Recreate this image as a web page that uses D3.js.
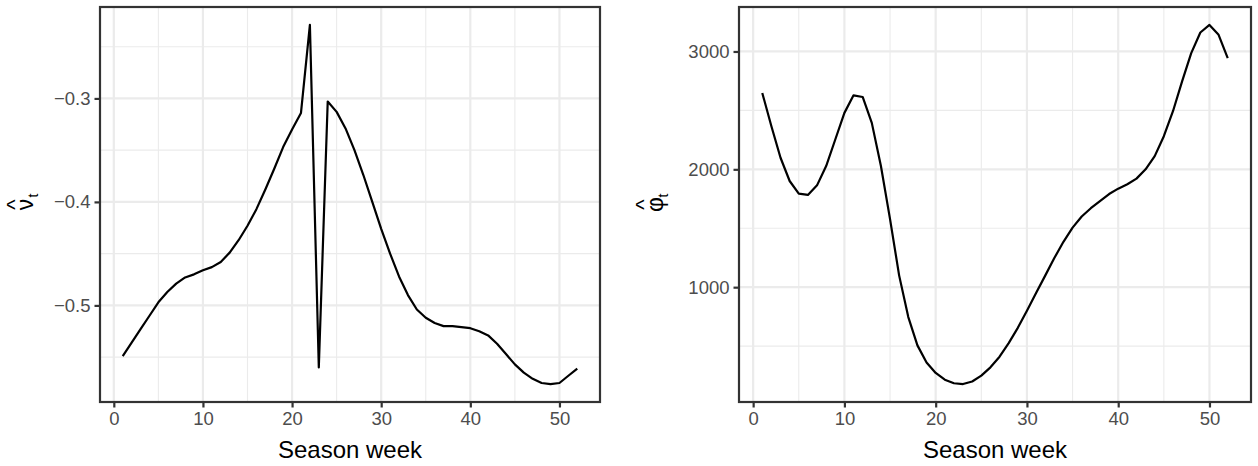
<!DOCTYPE html>
<html>
<head>
<meta charset="utf-8">
<script src="https://cdn.jsdelivr.net/npm/d3@7"></script>
<style>
  body { margin: 0; background: #fff; }
  text { font-family: "Liberation Sans", Arial, sans-serif; }
</style>
</head>
<body>
<script>
// season weeks
var weeks = [1,2,3,4,5,6,7,8,9,10,11,12,13,14,15,16,17,18,19,20,21,22,23,24,25,26,
             27,28,29,30,31,32,33,34,35,36,37,38,39,40,41,42,43,44,45,46,47,48,49,50,51,52];
// estimated nu hat
var nuHat = [-0.549,-0.536,-0.523,-0.510,-0.497,-0.487,-0.479,-0.473,-0.470,-0.466,
             -0.463,-0.458,-0.449,-0.437,-0.423,-0.407,-0.388,-0.368,-0.347,-0.330,
             -0.314,-0.229,-0.560,-0.303,-0.313,-0.329,-0.350,-0.374,-0.400,-0.426,
             -0.450,-0.472,-0.490,-0.504,-0.512,-0.517,-0.520,-0.520,-0.521,-0.522,
             -0.525,-0.529,-0.537,-0.547,-0.557,-0.565,-0.571,-0.575,-0.576,-0.575,
             -0.568,-0.561];
// estimated phi hat
var phiHat = [2648,2366,2098,1901,1794,1783,1864,2028,2253,2479,
              2628,2614,2394,2028,1577,1098,746,506,360,272,
              215,185,178,200,250,320,410,525,655,800,
              951,1098,1247,1385,1505,1600,1670,1730,1790,1836,
              1873,1921,2000,2112,2281,2493,2746,2986,3161,3225,
              3141,2944];
var xTicks = [0,10,20,30,40,50],
    xMinor = [5,15,25,35,45];
var nuTicks = [-0.5,-0.4,-0.3],
    nuMinor = [-0.55,-0.45,-0.35,-0.25];
var phiTicks = [1000,2000,3000],
    phiMinor = [500,1500,2500];

var svg = d3.select("body").append("svg")
    .attr("width", 1258)
    .attr("height", 466);

// ggplot style expansion (5% each side)
function expand(ext) {
  var pad = (ext[1] - ext[0]) * 0.05;
  return [ext[0] - pad, ext[1] + pad];
}

function panel(opt) {
  var x = d3.scaleLinear().domain(expand(d3.extent(weeks))).range([opt.left, opt.right]);
  var y = d3.scaleLinear().domain(expand(d3.extent(opt.values))).range([opt.bottom, opt.top]);
  var g = svg.append("g");

  // grid
  g.selectAll(".vminor").data(xMinor).enter().append("line")
    .attr("x1", x).attr("x2", x).attr("y1", opt.top).attr("y2", opt.bottom)
    .attr("stroke", "#ebebeb").attr("stroke-width", 1.1);
  g.selectAll(".hminor").data(opt.minor).enter().append("line")
    .attr("y1", y).attr("y2", y).attr("x1", opt.left).attr("x2", opt.right)
    .attr("stroke", "#ebebeb").attr("stroke-width", 1.1);
  g.selectAll(".vmajor").data(xTicks).enter().append("line")
    .attr("x1", x).attr("x2", x).attr("y1", opt.top).attr("y2", opt.bottom)
    .attr("stroke", "#ebebeb").attr("stroke-width", 2.2);
  g.selectAll(".hmajor").data(opt.ticks).enter().append("line")
    .attr("y1", y).attr("y2", y).attr("x1", opt.left).attr("x2", opt.right)
    .attr("stroke", "#ebebeb").attr("stroke-width", 2.2);

  // line
  var line = d3.line()
    .x(function(d, i) { return x(weeks[i]); })
    .y(function(d) { return y(d); });
  g.append("path")
    .datum(opt.values)
    .attr("d", line)
    .attr("fill", "none")
    .attr("stroke", "#000")
    .attr("stroke-width", 2.2)
    .attr("stroke-linejoin", "round");

  // border
  g.append("rect")
    .attr("x", opt.left).attr("y", opt.top)
    .attr("width", opt.right - opt.left).attr("height", opt.bottom - opt.top)
    .attr("fill", "none").attr("stroke", "#333333").attr("stroke-width", 2.2);

  // axes
  var xAxis = d3.axisBottom(x).tickValues(xTicks).tickSize(5.5).tickPadding(4);
  var gx = g.append("g").attr("transform", "translate(0," + opt.bottom + ")").call(xAxis);
  var yAxis = d3.axisLeft(y).tickValues(opt.ticks).tickSize(5.5).tickPadding(4)
    .tickFormat(opt.fmt);
  var gy = g.append("g").attr("transform", "translate(" + opt.left + ",0)").call(yAxis);
  [gx, gy].forEach(function(a) {
    a.select(".domain").remove();
    a.selectAll(".tick line").attr("stroke", "#333333").attr("stroke-width", 2.2);
    a.selectAll(".tick text").attr("fill", "#4d4d4d")
      .style("font-size", "18.5px");
  });
  gx.selectAll(".tick text").attr("dy", "0.71em").attr("y", 10);

  g.append("text")
    .attr("x", (opt.left + opt.right) / 2)
    .attr("y", 458)
    .attr("text-anchor", "middle")
    .style("font-size", "24px")
    .attr("fill", "#000")
    .text("Season week");

  // y title: hat(symbol)[t], rotated
  var t = g.append("g")
    .attr("transform", "translate(" + opt.titleX + "," + (opt.top + opt.bottom) / 2 + ") rotate(-90)");
  t.append("text")
    .attr("x", 0).attr("y", 0)
    .attr("text-anchor", "middle")
    .style("font-size", "23px")
    .text(opt.symbol);
  t.append("text")
    .attr("x", 0).attr("y", opt.hatY)
    .attr("text-anchor", "middle")
    .style("font-size", "22px")
    .text("^");
  t.append("text")
    .attr("x", 7).attr("y", 5)
    .style("font-size", "14px")
    .text("t");
}

panel({
  left: 100, right: 600, top: 7, bottom: 402,
  values: nuHat, ticks: nuTicks, minor: nuMinor,
  fmt: function(d) { return d3.format(".1f")(d).replace("-", "\u2212"); },
  symbol: "\u03bd", titleX: 33, hatY: -11
});

panel({
  left: 739, right: 1251, top: 7, bottom: 402,
  values: phiHat, ticks: phiTicks, minor: phiMinor,
  fmt: function(d) { return String(d); },
  symbol: "\u03c6", titleX: 663, hatY: -12
});
</script>
</body>
</html>
